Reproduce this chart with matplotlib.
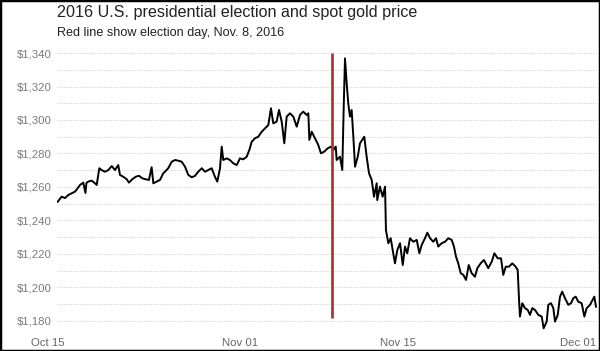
import numpy as np
import pandas as pd
import matplotlib
matplotlib.use('Agg')
import matplotlib.pyplot as plt
import matplotlib.dates as mdates
from matplotlib.ticker import MultipleLocator, FuncFormatter
from matplotlib.transforms import blended_transform_factory
from matplotlib.patches import Rectangle

plt.rcParams['font.family'] = ['Liberation Sans', 'DejaVu Sans']

# days since Oct 15 2016 and spot gold price (USD/oz)
days = [0.86, 1.21, 1.51, 1.80, 2.10, 2.39, 2.63, 2.84, 3.13, 3.32, 3.41, 3.57, 3.87, 4.17, 4.32,
        4.55, 4.76, 5.05, 5.35, 5.65, 5.94, 6.23, 6.38, 6.68, 6.98, 7.18, 7.47, 7.77, 8.07, 8.36,
        8.66, 8.95, 9.19, 9.34, 9.64, 9.93, 10.22, 10.37, 10.66, 10.97, 11.26, 11.55, 11.85, 12.15,
        12.44, 12.74, 13.03, 13.32, 13.63, 13.92, 14.21, 14.51, 14.80, 15.01, 15.25, 15.40, 15.54,
        15.84, 16.13, 16.43, 16.73, 17.02, 17.31, 17.62, 17.85, 18.06, 18.35, 18.64, 18.95, 19.24,
        19.53, 19.77, 19.97, 20.27, 20.48, 20.72, 20.95, 21.16, 21.45, 21.75, 22.05, 22.34, 22.63,
        22.93, 23.08, 23.17, 23.38, 23.67, 23.96, 24.20, 24.49, 24.80, 25.09, 25.29, 25.51, 25.59,
        25.89, 26.09, 26.21, 26.33, 26.48, 26.62, 26.77, 26.92, 27.07, 27.22, 27.46, 27.66, 27.86,
        28.04, 28.25, 28.46, 28.70, 28.90, 29.14, 29.19, 29.43, 29.67, 29.88, 29.96, 30.17, 30.38,
        30.56, 30.76, 30.97, 31.21, 31.45, 31.65, 31.85, 32.09, 32.39, 32.69, 32.92, 33.13, 33.42,
        33.63, 33.87, 34.16, 34.40, 34.60, 34.90, 35.20, 35.49, 35.79, 35.99, 36.17, 36.37, 36.59,
        36.82, 37.06, 37.30, 37.56, 37.85, 38.06, 38.36, 38.65, 39.03, 39.34, 39.57, 39.87, 40.16,
        40.36, 40.58, 40.87, 41.16, 41.46, 41.64, 41.76, 41.84, 42.05, 42.29, 42.53, 42.73, 42.93,
        43.17, 43.47, 43.77, 43.94, 44.21, 44.35, 44.59, 44.80, 44.95, 45.19, 45.39, 45.59, 45.83,
        46.13, 46.37, 46.57, 46.78, 47.01, 47.31, 47.55, 47.75, 48.05, 48.43, 48.58]
price = [1251.2, 1254.2, 1253.4, 1255.2, 1256.2, 1257.2, 1259.2, 1261.2, 1262.6, 1256.4, 1262.4,
         1263.2, 1263.8, 1262.2, 1261.2, 1271.2, 1270.1, 1269.1, 1270.1, 1272.5, 1270.1, 1273.1,
         1267.2, 1266.1, 1264.6, 1262.6, 1264.6, 1266.1, 1266.7, 1265.2, 1264.6, 1264.2, 1271.8,
         1262.2, 1263.2, 1264.2, 1268.2, 1269.1, 1271.2, 1275.1, 1276.1, 1275.7, 1275.1, 1272.1,
         1267.2, 1265.8, 1266.6, 1269.1, 1271.2, 1269.1, 1270.1, 1271.2, 1266.1, 1263.2, 1271.2,
         1284.1, 1276.1, 1277.1, 1276.1, 1274.1, 1273.1, 1277.1, 1276.5, 1278.1, 1282.1, 1287.0,
         1289.1, 1290.0, 1293.0, 1295.0, 1297.0, 1307.0, 1298.0, 1299.0, 1306.0, 1299.0, 1286.1,
         1302.0, 1304.0, 1302.0, 1296.0, 1303.0, 1305.0, 1303.0, 1304.0, 1288.1, 1293.0, 1289.1,
         1285.1, 1280.1, 1281.1, 1283.1, 1284.1, 1282.1, 1284.1, 1276.1, 1278.1, 1270.1, 1306.0,
         1336.8, 1321.9, 1310.0, 1302.0, 1306.0, 1290.0, 1272.1, 1278.1, 1286.1, 1288.1, 1290.0,
         1278.1, 1268.2, 1264.2, 1254.2, 1262.2, 1252.2, 1260.2, 1254.2, 1260.2, 1234.3, 1226.4,
         1229.4, 1222.4, 1214.4, 1222.4, 1226.4, 1213.4, 1224.4, 1220.4, 1229.4, 1227.3, 1228.4,
         1220.4, 1225.4, 1229.4, 1232.7, 1229.4, 1227.3, 1229.4, 1224.4, 1226.4, 1227.3, 1229.4,
         1228.4, 1224.4, 1218.4, 1214.4, 1208.5, 1207.5, 1204.5, 1213.4, 1208.5, 1206.4, 1211.5,
         1214.4, 1216.4, 1211.5, 1215.4, 1220.4, 1217.4, 1217.4, 1207.5, 1212.4, 1212.4, 1214.4,
         1212.4, 1210.4, 1192.5, 1182.6, 1190.6, 1187.6, 1186.6, 1183.6, 1187.6, 1186.6, 1183.6,
         1182.6, 1175.6, 1179.6, 1189.6, 1190.6, 1187.6, 1179.6, 1183.6, 1194.5, 1197.5, 1193.6,
         1189.6, 1190.6, 1193.6, 1194.5, 1191.5, 1190.6, 1182.6, 1187.6, 1189.6, 1194.5, 1188.5]

start = pd.Timestamp('2016-10-15')
times = start + pd.to_timedelta(days, unit='D')
election_time = pd.Timestamp('2016-11-09 04:50')
election_span = (1182, 1340)
xtick_dates = ['2016-10-15', '2016-11-01', '2016-11-15', '2016-12-01']
xtick_labels = ['Oct 15', 'Nov 01', 'Nov 15', 'Dec 01']

fig = plt.figure(figsize=(6, 3.51), dpi=100)
ax = fig.add_axes([57 / 600, 18 / 351, 540 / 600, 283 / 351])

ax.plot(times, price, color='black', lw=1.4)
ax.vlines(election_time, election_span[0], election_span[1], color='#a33b3b', lw=2)

ax.set_xlim(start + pd.Timedelta(days=0.8), start + pd.Timedelta(days=48.67))
ax.set_ylim(1172.8, 1341.8)

ax.yaxis.set_major_locator(MultipleLocator(20))
ax.yaxis.set_minor_locator(MultipleLocator(10))
ax.yaxis.set_major_formatter(FuncFormatter(lambda v, p: '${:,.0f}'.format(v)))
ax.grid(True, axis='y', which='both', color='#d6d6d6', lw=0.8, ls=(0, (1, 1)))
ax.set_xticks([])
ax.tick_params(axis='y', which='both', length=0, pad=4, labelsize=8.2, labelcolor='#7a7a7a')
for s in ax.spines.values():
    s.set_visible(False)

trans = blended_transform_factory(ax.transData, ax.transAxes)
for d, lab in zip(xtick_dates, xtick_labels):
    ax.text(mdates.date2num(pd.Timestamp(d)), -10 / 283, lab, transform=trans, ha='center',
            va='center', fontsize=8.2, color='#666666', clip_on=False)

fig.text(57 / 600, 1 - 5 / 351, '2016 U.S. presidential election and spot gold price',
         fontsize=11.6, color='#222222', va='top', ha='left')
fig.text(57 / 600, 1 - 27 / 351, 'Red line show election day, Nov. 8, 2016',
         fontsize=9.1, color='#222222', va='top', ha='left')

fig.patches.append(Rectangle((0, 0), 1, 1, transform=fig.transFigure, fill=False,
                             edgecolor='black', lw=2.5))

fig.savefig('out.png', dpi=100)
